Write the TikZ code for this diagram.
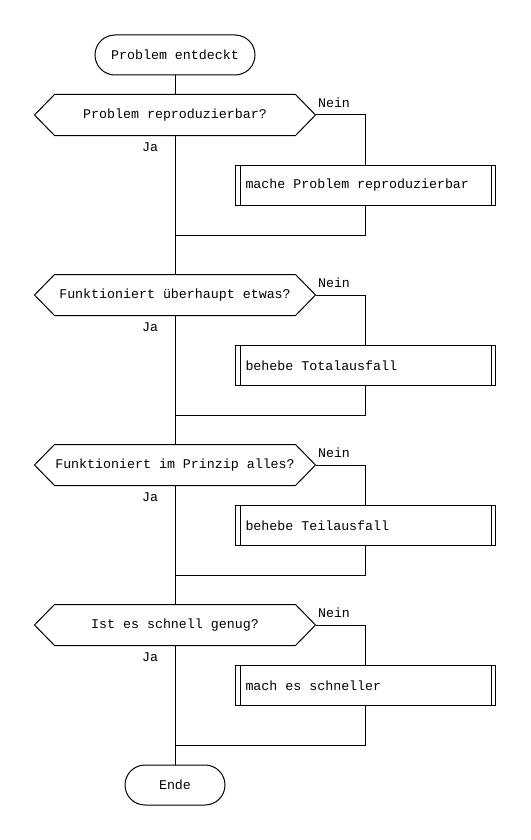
\documentclass[tikz,border=0pt]{standalone}
\usepackage{fontspec}
\setmonofont{Liberation Mono}
\usetikzlibrary{positioning}
\newcommand{\linksbox}[1]{\makebox[240pt][l]{#1}}
\begin{document}
\begin{tikzpicture}[
        x=1pt, y=-1pt,
        line width=1pt,
        font=\ttfamily\fontsize{13.3}{16}\selectfont,
        term/.style={draw, rounded corners=20pt, minimum height=40pt, inner sep=0pt}, % Start/Ende
        frage/.style={minimum width=280pt, minimum height=40pt, inner sep=0pt}, % Entscheidung
        tun/.style={draw, minimum height=40pt, inner xsep=10pt, inner ysep=0pt}, % Unterprogramm
        marke/.style={inner sep=0pt},
    ]
    \useasboundingbox (0,0) rectangle (530,840);

    \node[term, minimum width=160pt] (start) at (175,55) {Problem entdeckt};
    \node[term, minimum width=100pt] (ende) at (175,785) {Ende};

    \coordinate (m0) at (start.south);
    \foreach \i/\y/\b/\m/\frag/\tat in {
            1/115/50/120/{Problem reproduzierbar?}/{mache Problem reproduzierbar},
            2/295/50/120/{Funktioniert überhaupt etwas?}/{behebe Totalausfall},
            3/465/40/110/{Funktioniert im Prinzip alles?}/{behebe Teilausfall},
            4/625/40/120/{Ist es schnell genug?}/{mach es schneller}} {
        \pgfmathtruncatemacro{\j}{\i-1}
        \node[frage] (f\i) at (175,\y) {\frag};
        \draw (f\i.west) -- ([xshift=20pt]f\i.north west) -- ([xshift=-20pt]f\i.north east)
              -- (f\i.east) -- ([xshift=-20pt]f\i.south east) -- ([xshift=20pt]f\i.south west) -- cycle;
        \node[tun, anchor=north west] (t\i) at (235,\y+\b) {\linksbox{\tat}};
        \draw ([xshift=5pt]t\i.north west) -- ([xshift=5pt]t\i.south west)
              ([xshift=-5pt]t\i.north east) -- ([xshift=-5pt]t\i.south east);
        \coordinate (m\i) at (175,\y+\m);
        \node[marke] (nein\i) at (334,\y-12) {Nein};
        \node[marke] (ja\i) at (150,\y+32) {Ja};
        % Verbindungen
        \draw (m\j) -- (f\i.north);
        \draw (f\i.south) -- (m\i);
        \draw (f\i.east) -| (t\i.north -| 365,0);
        \draw (t\i.south -| 365,0) |- (m\i);
    }
    \draw (m4) -- (ende.north);
\end{tikzpicture}
\end{document}
